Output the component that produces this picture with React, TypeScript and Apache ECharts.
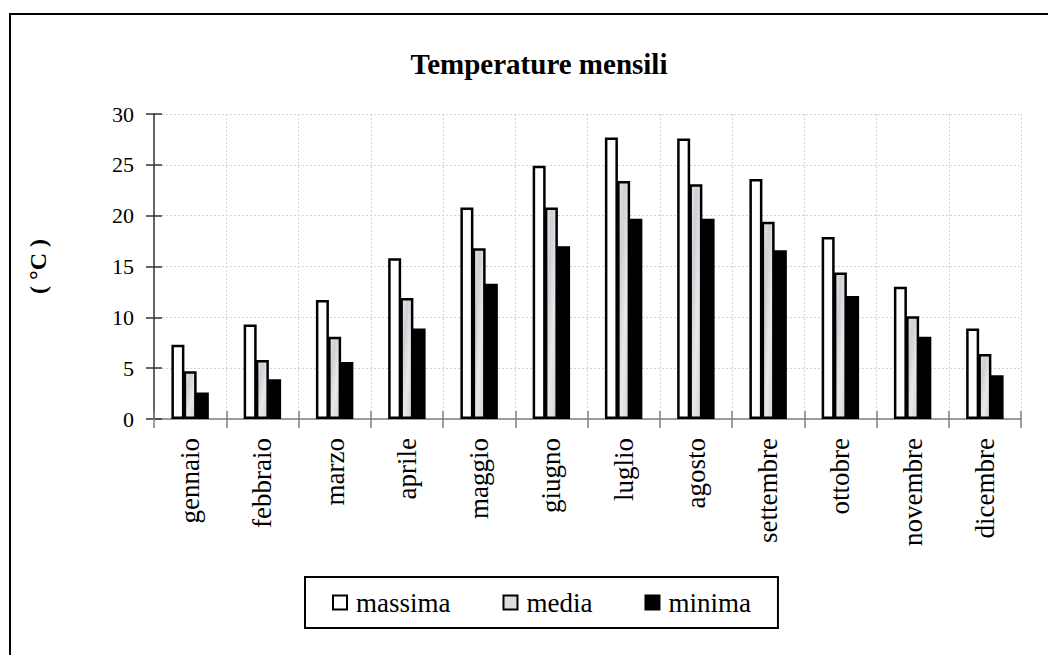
import React, { useEffect, useRef } from "react";
import * as echarts from "echarts";

const months = ["gennaio", "febbraio", "marzo", "aprile", "maggio", "giugno", "luglio", "agosto", "settembre", "ottobre", "novembre", "dicembre"];
const massima = [7.3, 9.3, 11.7, 15.8, 20.8, 24.9, 27.7, 27.6, 23.6, 17.9, 13.0, 8.9];
const media = [4.7, 5.8, 8.1, 11.9, 16.8, 20.8, 23.4, 23.1, 19.4, 14.4, 10.1, 6.4];
const minima = [2.6, 3.9, 5.6, 8.9, 13.3, 17.0, 19.7, 19.7, 16.6, 12.1, 8.1, 4.3];
const yTicks = { min: 0, max: 30, interval: 5 };

const FONT = "Liberation Serif";

export default function App() {
  const ref = useRef<HTMLDivElement>(null);
  useEffect(() => {
    if (!ref.current) return;
    const chart = echarts.init(ref.current, null, { renderer: "svg" });
    const mediaFill = new echarts.graphic.LinearGradient(0, 0, 1, 1, [
      { offset: 0, color: "#e4e5e9" },
      { offset: 0.3, color: "#cfd0d5" },
      { offset: 0.6, color: "#e8e9ec" },
      { offset: 1, color: "#d2d3d8" },
    ]);
    const barBase = { type: "bar" as const, barWidth: 13, barGap: "-6%", xAxisIndex: 0, yAxisIndex: 0 };
    chart.setOption({
      animation: false,
      backgroundColor: "#ffffff",
      textStyle: { fontFamily: FONT, color: "#000" },
      title: {
        text: "Temperature mensili",
        left: 534,
        textAlign: "center",
        top: 44,
        textStyle: { fontFamily: FONT, fontSize: 29, fontWeight: "bold", color: "#000" },
      },
      graphic: [
        {
          type: "rect",
          shape: { x: 10, y: 14, width: 1100, height: 700 },
          style: { fill: "none", stroke: "#000", lineWidth: 2 },
          silent: true,
        },
      ],
      legend: {
        left: 305,
        top: 577,
        padding: [12, 27, 12, 27],
        itemGap: 52,
        itemWidth: 14,
        itemHeight: 14,
        borderColor: "#000",
        borderWidth: 2,
        borderRadius: 0,
        icon: "rect",
        textStyle: { fontFamily: FONT, fontSize: 27, color: "#000", padding: [0, 0, 0, 4] },
        data: [
          { name: "massima", itemStyle: { color: "#fff", borderColor: "#000", borderWidth: 2 } },
          { name: "media", itemStyle: { color: "#dcdde1", borderColor: "#000", borderWidth: 2 } },
          { name: "minima", itemStyle: { color: "#000", borderColor: "#000", borderWidth: 2 } },
        ],
      },
      grid: { left: 154, right: 27, top: 114, bottom: 236, containLabel: false },
      xAxis: [
        {
          type: "category",
          data: months,
          boundaryGap: true,
          axisLine: { show: true, lineStyle: { color: "#7f7f7f", width: 1.5 } },
          axisTick: { show: true, inside: false, length: 9, lineStyle: { color: "#7f7f7f", width: 1.5 } },
          axisLabel: { rotate: 90, margin: 19, fontFamily: FONT, fontSize: 27, color: "#000" },
          splitLine: { show: true, lineStyle: { color: "#d4d4d4", type: [2, 2], width: 1 } },
        },
        {
          type: "category",
          data: months,
          boundaryGap: true,
          position: "bottom",
          axisLine: { show: false },
          axisTick: { show: true, inside: true, length: 8, lineStyle: { color: "#7f7f7f", width: 1.5 } },
          axisLabel: { show: false },
          splitLine: { show: false },
        },
      ],
      yAxis: [
        {
          type: "value",
          min: yTicks.min,
          max: yTicks.max,
          interval: yTicks.interval,
          name: "( °C )",
          nameLocation: "middle",
          nameRotate: 90,
          nameGap: 104,
          nameTextStyle: { fontFamily: FONT, fontSize: 24, fontWeight: "bold", color: "#000" },
          axisLine: { show: true, lineStyle: { color: "#333", width: 1.5 } },
          axisTick: { show: true, inside: false, length: 8, lineStyle: { color: "#333", width: 1.5 } },
          axisLabel: { margin: 20, fontFamily: FONT, fontSize: 22, color: "#000" },
          splitLine: { show: true, lineStyle: { color: "#d4d4d4", type: [2, 2], width: 1 } },
        },
        {
          type: "value",
          min: yTicks.min,
          max: yTicks.max,
          interval: yTicks.interval,
          position: "left",
          axisLine: { show: false },
          axisTick: { show: true, inside: true, length: 8, lineStyle: { color: "#333", width: 1.5 } },
          axisLabel: { show: false },
          splitLine: { show: false },
        },
      ],
      series: [
        { ...barBase, name: "massima", data: massima, itemStyle: { color: "#fff", borderColor: "#000", borderWidth: 2.5 } },
        { ...barBase, name: "media", data: media, itemStyle: { color: mediaFill, borderColor: "#000", borderWidth: 2.5 } },
        { ...barBase, name: "minima", data: minima, itemStyle: { color: "#000", borderColor: "#000", borderWidth: 2.5 } },
      ],
    });
    return () => chart.dispose();
  }, []);
  return <div ref={ref} style={{ position: "absolute", left: 0, top: 0, width: 1048, height: 655 }} />;
}
